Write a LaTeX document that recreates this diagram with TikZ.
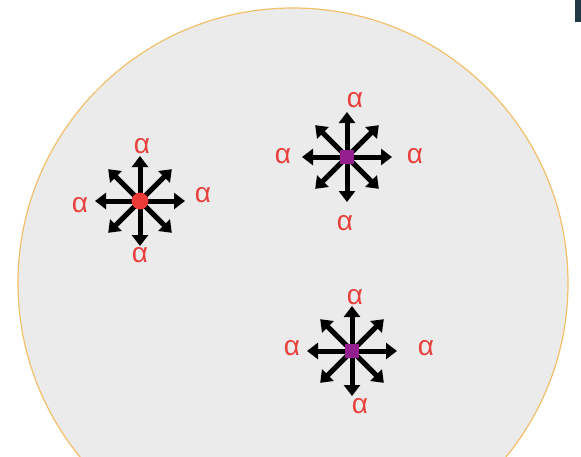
\documentclass[tikz,border=0pt]{standalone}
\usepackage{fontspec}
\setmainfont{Liberation Sans}
\usetikzlibrary{arrows.meta}
\definecolor{bgfill}{HTML}{EBEBEB}
\definecolor{rim}{HTML}{F3C06A}
\definecolor{alphared}{HTML}{E8413D}
\definecolor{dotred}{HTML}{EC3B36}
\definecolor{sqpurple}{HTML}{94208F}
\definecolor{barblue}{HTML}{1F3A45}
\tikzset{
  burst/.style={line width=5pt,black,-{Triangle[width=16pt,length=11pt]}},
  lbl/.style={text=alphared,font=\fontsize{28}{28}\selectfont,inner sep=0pt},
  reddot/.style={circle,fill=dotred,minimum size=17pt,inner sep=0pt},
  purplesq/.style={rectangle,fill=sqpurple,minimum size=14pt,inner sep=0pt}
}
\begin{document}
\begin{tikzpicture}[x=1pt,y=-1pt]
\useasboundingbox (0,0) rectangle (581,456);
\fill[white] (0,0) rectangle (581,456);
\begin{scope}
\clip (0,0) rectangle (581,456);
\draw[rim,fill=bgfill,line width=1.2pt] (293,283) circle[radius=275];
\end{scope}
\fill[barblue] (575,0) rectangle (581,22);
% centres
\coordinate (c1) at (140,201);
\coordinate (c2) at (347,157);
\coordinate (c3) at (352,351);
\foreach \c in {c1,c2,c3}{
  \foreach \a in {0,45,...,315}{
    \draw[burst] (\c) -- ++(\a:45);
  }
}
\node[reddot] (d1) at (c1) {};
\node[purplesq] (s2) at (c2) {};
\node[purplesq] (s3) at (c3) {};
% labels
\node[lbl] (l1t) at (142,146) {α};
\node[lbl] (l1l) at (80,205) {α};
\node[lbl] (l1r) at (203,195) {α};
\node[lbl] (l1b) at (140,255) {α};
\node[lbl] (l2t) at (355,100) {α};
\node[lbl] (l2l) at (283,156) {α};
\node[lbl] (l2r) at (415,156) {α};
\node[lbl] (l2b) at (345,223) {α};
\node[lbl] (l3t) at (355,297) {α};
\node[lbl] (l3l) at (292,348) {α};
\node[lbl] (l3r) at (426,348) {α};
\node[lbl] (l3b) at (360,406) {α};
\end{tikzpicture}
\end{document}
